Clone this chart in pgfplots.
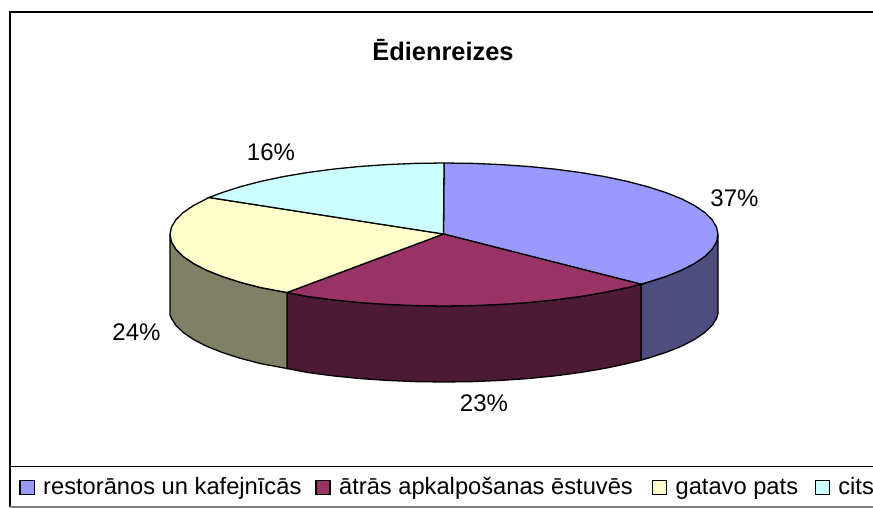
\documentclass[border=0pt]{standalone}
\usepackage{fontspec}
\setmainfont{Liberation Sans}
\usepackage{pgfplots}
\pgfplotsset{compat=1.18}
\definecolor{sA}{HTML}{9999FF}
\definecolor{sB}{HTML}{993366}
\definecolor{sC}{HTML}{FFFFCC}
\definecolor{sD}{HTML}{CCFFFF}
\definecolor{wA}{HTML}{4D4D80}
\definecolor{wB}{HTML}{4D1A33}
\definecolor{wC}{HTML}{808066}
\newcommand{\lab}{\fontsize{24bp}{28bp}\selectfont}
\newcommand{\leg}{\fontsize{23.7bp}{28bp}\selectfont}
\begin{document}
\begin{tikzpicture}
\useasboundingbox (0,0) rectangle (873bp,508bp);
\begin{axis}[
  at={(0,0)}, anchor=south west,
  width=873bp, height=508bp, scale only axis,
  xmin=0, xmax=873, ymin=0, ymax=508, y dir=reverse,
  axis lines=none, clip=true,
  legend columns=-1,
  legend image code/.code={\draw[#1,line width=1.2bp] (0bp,0bp) rectangle (14bp,14.5bp);},
  legend style={at={(axis cs:19.5,487)}, anchor=west, draw=none, fill=none,
    inner sep=0pt, outer sep=0pt,
    font=\leg,
    nodes={inner sep=0pt, anchor=base west},
    /tikz/every odd column/.append style={column sep=8.5bp},
    /tikz/every even column/.append style={column sep=14bp}},
]
% chart frame
\addplot[forget plot, line width=2bp, black] coordinates {(873,12.5)(9.5,12.5)(9.5,507)};
\addplot[forget plot, line width=1.3bp, black] coordinates {(9.5,466.5)(873,466.5)};
\addplot[forget plot, line width=1.8bp, gray] coordinates {(9.5,507)(873,507)};
% side walls
\addplot[forget plot, fill=wA, draw=black, line width=1.3bp] coordinates {
 (718,234.5)(716.5,242)(712,249.4)(704.6,256.6)(694.3,263.6)(681.3,270.3)(665.7,276.5)(647.6,282.3)(641,284.2)
 (641,360.2)(647.6,358.3)(665.7,352.5)(681.3,346.3)(694.3,339.6)(704.6,332.6)(712,325.5)(716.5,318.5)(718,313.5)} -- cycle;
\addplot[forget plot, fill=wB, draw=black, line width=1.3bp] coordinates {
 (641,284.2)(627.3,287.6)(605.1,292.3)(581,296.4)(555.4,299.8)(528.7,302.5)(501,304.4)(472.6,305.6)(444,306)
 (415.4,305.6)(387,304.4)(359.3,302.5)(332.6,299.8)(307,296.4)(287,292.5)
 (287,368.5)(307,372.4)(332.6,375.8)(359.3,378.5)(387,380.4)(415.4,381.6)(444,382)(472.6,381.6)(501,380.4)
 (528.7,378.5)(555.4,375.8)(581,372.4)(605.1,368.3)(627.3,363.6)(641,360.2)} -- cycle;
\addplot[forget plot, fill=wC, draw=black, line width=1.3bp] coordinates {
 (287,292.5)(260.7,287.6)(240.4,282.3)(222.3,276.5)(206.7,270.3)(193.7,263.6)(183.4,256.6)(176,249.4)(171.5,242)(170,234.5)
 (170,315)(171.5,318.5)(176,325.5)(183.4,332.6)(193.7,339.6)(206.7,346.3)(222.3,352.5)(240.4,358.3)(260.7,363.6)(287,368.5)} -- cycle;
% top faces
\addplot[fill=sA, draw=black, line width=1.3bp] coordinates {
 (443.5,234)(444,163)(472.6,163.4)(501,164.6)(528.7,166.5)(555.4,169.2)(581,172.6)(605.1,176.7)(627.3,181.4)(647.6,186.7)
 (665.7,192.5)(681.3,198.7)(694.3,205.4)(704.6,212.4)(712,219.6)(716.5,227)(718,234.5)(716.5,242)(712,249.4)(704.6,256.6)
 (694.3,263.6)(681.3,270.3)(665.7,276.5)(647.6,282.3)(641,284.2)} -- cycle;
\addlegendentry{restorānos un kafejnīcās}
\addplot[fill=sB, draw=black, line width=1.3bp] coordinates {
 (443.5,234)(641,284.2)(627.3,287.6)(605.1,292.3)(581,296.4)(555.4,299.8)(528.7,302.5)(501,304.4)(472.6,305.6)(444,306)
 (415.4,305.6)(387,304.4)(359.3,302.5)(332.6,299.8)(307,296.4)(287,292.5)} -- cycle;
\addlegendentry{ātrās apkalpošanas ēstuvēs\rule{5bp}{0pt}}
\addplot[fill=sC, draw=black, line width=1.3bp] coordinates {
 (443.5,234)(287,292.5)(260.7,287.6)(240.4,282.3)(222.3,276.5)(206.7,270.3)(193.7,263.6)(183.4,256.6)(176,249.4)(171.5,242)
 (170,234.5)(171.5,227)(176,219.6)(183.4,212.4)(193.7,205.4)(206.7,198.7)(209,197.5)} -- cycle;
\addlegendentry{gatavo pats\rule{2.5bp}{0pt}}
\addplot[fill=sD, draw=black, line width=1.3bp] coordinates {
 (443.5,234)(209,197.5)(222.3,192.5)(240.4,186.7)(260.7,181.4)(282.9,176.7)(307,172.6)(332.6,169.2)(359.3,166.5)(387,164.6)
 (415.4,163.4)(444,163)} -- cycle;
\addlegendentry{cits}
% title and percent labels
\node[font=\bfseries\fontsize{25.4bp}{30bp}\selectfont] at (axis cs:443,50) {Ēdienreizes};
\node[font=\lab] at (axis cs:734.5,198) {37\%};
\node[font=\lab] at (axis cs:484,403.5) {23\%};
\node[font=\lab] at (axis cs:136.5,332.5) {24\%};
\node[font=\lab] at (axis cs:271,152) {16\%};
\end{axis}
\end{tikzpicture}
\end{document}
